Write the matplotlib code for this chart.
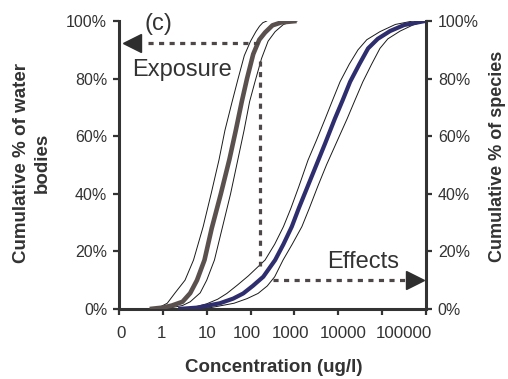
import matplotlib
matplotlib.use("Agg")
import matplotlib.pyplot as plt
import matplotlib.transforms as mtransforms
from matplotlib.ticker import FuncFormatter, FixedLocator, NullLocator

plt.rcParams['font.family'] = ['Liberation Sans', 'DejaVu Sans']

# ---- data (concentration in ug/l, cumulative %) ----
exp_conc = [0.5, 1.0, 1.6, 2.8, 4.2, 6.0, 8.9, 13, 21, 33, 46, 63, 83, 115, 158, 214, 316, 500, 1120]
exp_pct = [0, 0.5, 1.2, 2.5, 5.5, 10, 17, 28, 40, 52, 62, 72, 80, 88.5, 93.5, 96, 98.5, 99.5, 100]
exp_low_conc = [0.5, 0.89, 1.26, 1.9, 3.2, 5.0, 8.3, 12.6, 19, 26, 38, 52, 72, 100, 132, 160, 190, 234]
exp_low_pct = [0, 0.8, 2, 5.6, 10, 17, 28.6, 40, 51.7, 62, 72, 80, 88, 93, 96.3, 98.2, 99.4, 100]
exp_high_conc = [0.56, 1.6, 2.8, 4.2, 7.1, 10, 15, 23, 35, 51, 71, 95, 126, 178, 251, 363, 562, 800, 1150]
exp_high_pct = [0, 0.5, 1.2, 2.5, 5.6, 10, 17, 28.6, 40, 51.7, 62, 72, 78.9, 87, 93, 96.3, 98.8, 99.6, 100]

eff_conc = [2.24, 6.3, 20, 40, 68, 112, 195, 363, 562, 871, 1259, 1995, 3162, 5012, 8318,
            12589, 18621, 30200, 47863, 79433, 151356, 316228, 955000]
eff_pct = [0, 0.5, 2, 3.6, 5.4, 8, 11.2, 17, 22.5, 28.6, 35, 42.5, 50, 57.5, 66,
           72.5, 78.9, 85, 90.5, 93.8, 96.5, 98.6, 100]
eff_low_conc = [2.0, 5.0, 10, 17.8, 28.8, 50, 89, 214, 355, 562, 832, 1259, 2042, 3162, 5012,
                7413, 10965, 17783, 28184, 44668, 89125, 199526, 501187]
eff_low_pct = [0, 0.6, 1.8, 3.4, 5.4, 8.3, 11.5, 17, 22.5, 28.6, 35, 42.5, 51.7, 58.5, 66,
               72.5, 78.9, 85, 90, 93.5, 96.3, 98.8, 100]
eff_high_conc = [2.8, 12.6, 42, 83, 148, 240, 355, 550, 891, 1479, 2188, 3388, 5370, 8913, 15849,
                 23988, 36308, 57544, 89125, 134896, 257040, 501187, 1000000]
eff_high_pct = [0, 0.5, 2, 3.6, 5.4, 8, 11.2, 17, 22.5, 28.6, 35, 42.5, 50, 57.5, 66,
                72.5, 78.9, 85, 90.5, 93.8, 96.5, 98.6, 100]

x_ticks = [0.1, 1, 10, 100, 1000, 10000, 100000, 1000000]
x_tick_labels = ["0", "1", "10", "100", "1000", "10000", "100000", ""]
y_ticks = [0, 20, 40, 60, 80, 100]

# guide (dashed arrows): threshold concentration and read-off percentages
guide_conc = 160
exposure_level = 92.5
effects_level = 10

# ---- figure ----
W, H = 508, 379
fig = plt.figure(figsize=(W / 100, H / 100), dpi=100)
ax = fig.add_axes([119 / W, 1 - 309 / H, (426 - 119) / W, (309 - 21) / H])

ax.set_xscale('log')
ax.set_xlim(0.1, 1e6)
ax.set_ylim(0, 100)

grey = '#5a514e'
navy = '#2e2d6e'
dash_col = '#4d4747'
txt = '#333333'

# confidence bands
for c, p in [(exp_low_conc, exp_low_pct), (exp_high_conc, exp_high_pct),
             (eff_low_conc, eff_low_pct), (eff_high_conc, eff_high_pct)]:
    ax.plot(c, p, color='#1a1a1a', lw=0.7, zorder=2)

ax.plot(exp_conc, exp_pct, color=grey, lw=3.3, zorder=3, solid_capstyle='butt', solid_joinstyle='round')
ax.plot(eff_conc, eff_pct, color=navy, lw=3.0, zorder=3, solid_capstyle='butt', solid_joinstyle='round')

# dashed guide lines
dash_kw = dict(color=dash_col, lw=2.3, linestyle=(0, (1.6, 1.7)), dash_capstyle='butt', zorder=4)
ax.plot([0.46, guide_conc], [exposure_level, exposure_level], **dash_kw)
ax.plot([guide_conc, guide_conc], [86, 15], **dash_kw)
ax.plot([330, 3.9e5], [effects_level, effects_level], **dash_kw)
# arrow heads
ax.plot([0.193], [exposure_level], marker='<', markersize=12.5, color='#2e2e2e', zorder=5, clip_on=False)
ax.plot([5.6e5], [effects_level], marker='>', markersize=12.5, color='#2e2e2e', zorder=5, clip_on=False)

# annotations
ax.text(0.78, 99.0, "(c)", fontsize=17, color=txt, ha='center', va='center')
ax.text(0.2, 80.9, "Exposure", fontsize=17, color=txt, ha='left', va='baseline')
ax.text(5500, 14.1, "Effects", fontsize=17, color=txt, ha='left', va='baseline')

# axes styling
for s in ['left', 'right', 'bottom']:
    ax.spines[s].set_linewidth(2.2)
    ax.spines[s].set_color('#333333')
ax.spines['top'].set_visible(False)

ax.xaxis.set_major_locator(FixedLocator(x_ticks))
ax.xaxis.set_minor_locator(NullLocator())
ax.set_xticklabels(x_tick_labels)
ax.set_yticks(y_ticks)
ax.yaxis.set_major_formatter(FuncFormatter(lambda v, pos: f"{int(v)}%"))
ax.tick_params(axis='both', which='major', direction='out', length=4.5, width=1.6,
               color='#333333', labelcolor=txt)
ax.tick_params(axis='x', labelsize=12.2, pad=8)
ax.tick_params(axis='y', labelsize=11.5, pad=4, left=True, right=True,
               labelleft=True, labelright=True)

# x tick label placement nudges as in the reference (pixels)
label_nudge_px = [2, -1, 0, -4, -4, 5, 22, 0]
for lab, dx in zip(ax.get_xticklabels(), label_nudge_px):
    off = mtransforms.ScaledTranslation(dx / 100, 0, fig.dpi_scale_trans)
    lab.set_transform(lab.get_transform() + off)

fig.text(273.5 / W, 1 - 367 / H, "Concentration (ug/l)", fontsize=13.5, fontweight='bold',
         color=txt, ha='center', va='center')
fig.text(32 / W, 1 - 163 / H, "Cumulative % of water\nbodies", fontsize=13.5, fontweight='bold',
         color=txt, ha='center', va='center', rotation=90, multialignment='center', linespacing=1.25)
fig.text(498 / W, 1 - 156 / H, "Cumulative % of species", fontsize=13, fontweight='bold',
         color=txt, ha='center', va='center', rotation=90)

fig.savefig("out.png", dpi=100, facecolor='white')
